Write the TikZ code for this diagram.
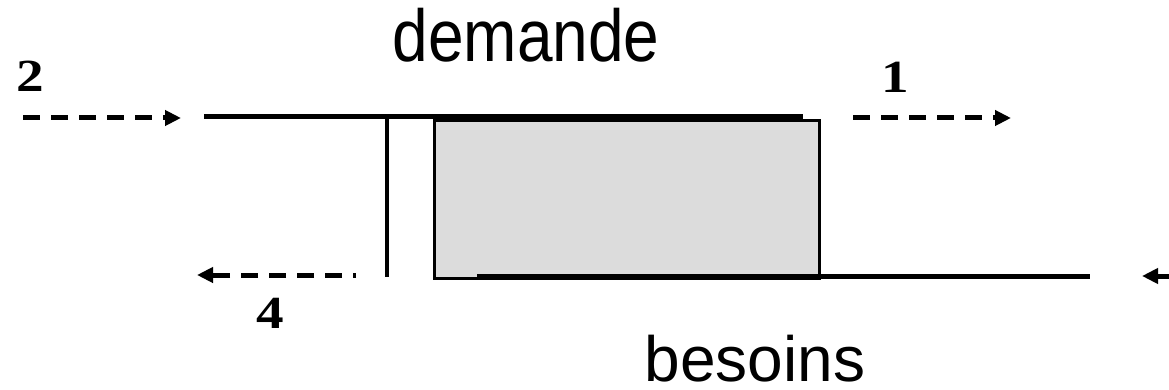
\documentclass[tikz,border=0pt]{standalone}
\usepackage{fontspec}
\setmainfont{Liberation Serif}
\newfontfamily\labelfont{Liberation Sans}
\usetikzlibrary{arrows.meta}
\definecolor{stockgray}{RGB}{220,220,220}
\begin{document}
\begin{tikzpicture}[x=1pt,y=-1pt,
  level/.style={line width=5pt},
  wall/.style={line width=3.4pt},
  flow/.style={line width=5pt, dash pattern=on 17pt off 11pt,
    -{Triangle[length=16pt,width=15pt]}},
  word/.style={font=\fontsize{64}{64}\selectfont\labelfont, inner sep=0pt, anchor=base},
  num/.style={font=\fontsize{46}{46}\selectfont\bfseries, inner sep=0pt, anchor=base, xscale=1.2}]
\useasboundingbox (0,0) rectangle (1169,390);
% reference points of the levels
\coordinate (topL) at (204,117);
\coordinate (topR) at (803,117);
\coordinate (botL) at (477,276);
\coordinate (botR) at (1090,276);
\coordinate (gateT) at (387,117);
\coordinate (gateB) at (387,277);
% shaded stock
\node[draw, wall, fill=stockgray, inner sep=0pt, minimum width=385pt, minimum height=158pt, anchor=north west] (stock) at (433,119) {};
% levels and gate
\draw[level] (topL) -- (topR);
\draw[level] (botL) -- (botR);
\draw[wall] (gateT) -- (gateB);
% flows
\coordinate (a2s) at (23,118);   \coordinate (a2e) at (181,118);
\coordinate (a1s) at (853,118);  \coordinate (a1e) at (1011,118);
\coordinate (a4s) at (356,275);  \coordinate (a4e) at (197,275);
\coordinate (a3s) at (1175,276); \coordinate (a3e) at (1142,276);
\draw[flow] (a2s) -- (a2e);
\draw[flow] (a1s) -- (a1e);
\draw[flow, dash phase=14pt] (a4s) -- (a4e);
\draw[flow] (a3s) -- (a3e);
% labels
\node[word, yscale=1.15] (dem) at (526,62) {demande};
\node[word] (bes) at (755,381) {besoins};
\node[num] (n2) at (30,92) {2};
\node[num] (n1) at (895,93) {1};
\node[num] (n4) at (270,328) {4};
\end{tikzpicture}
\end{document}
